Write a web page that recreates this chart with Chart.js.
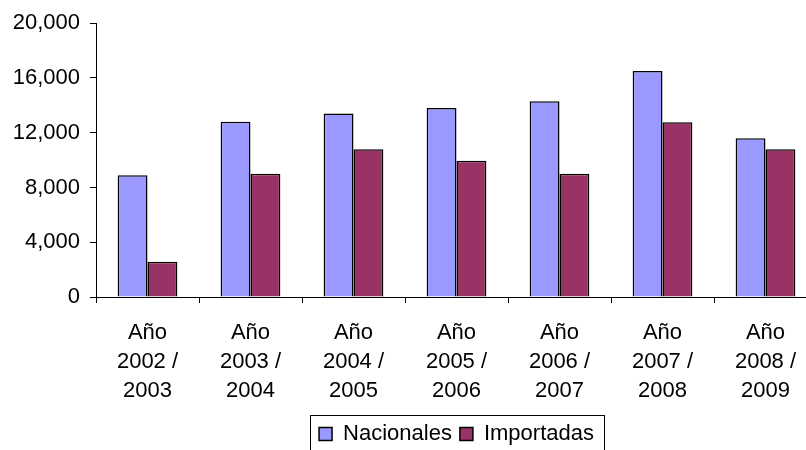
<!DOCTYPE html>
<html>
<head>
<meta charset="utf-8">
<script src="https://cdn.jsdelivr.net/npm/chart.js@4"></script>
<style>
  html, body { margin: 0; padding: 0; background: #fff; overflow: hidden; }
  #wrap { width: 820px; height: 450px; }
</style>
</head>
<body>
<div id="wrap"><canvas id="c" width="820" height="450"></canvas></div>
<script>
const categories = [
  ['Año', '2002 /', '2003'],
  ['Año', '2003 /', '2004'],
  ['Año', '2004 /', '2005'],
  ['Año', '2005 /', '2006'],
  ['Año', '2006 /', '2007'],
  ['Año', '2007 /', '2008'],
  ['Año', '2008 /', '2009']
];
const nacionales = [8900, 12800, 13400, 13800, 14300, 16500, 11600];
const importadas = [2570, 9000, 10800, 9950, 9000, 12770, 10800];
const yTicks = [0, 4000, 8000, 12000, 16000, 20000];

const FONT = 'Arial, "Liberation Sans", sans-serif';

// frame drawn around the legend, like the original
const legendFrame = {
  id: 'legendFrame',
  afterDraw(chart) {
    const boxes = chart.legend.legendHitBoxes;
    if (!boxes || !boxes.length) return;
    const first = boxes[0];
    const last = boxes[boxes.length - 1];
    const ctx = chart.ctx;
    ctx.save();
    ctx.strokeStyle = '#000';
    ctx.lineWidth = 1;
    const x0 = Math.round(first.left - 9) + 0.5;
    const x1 = Math.round(last.left + last.width + 10) + 0.5;
    const y0 = Math.round(first.top - 8) + 0.5;
    ctx.strokeRect(x0, y0, x1 - x0, 60);
    ctx.restore();
  }
};

new Chart(document.getElementById('c'), {
  type: 'bar',
  data: {
    labels: categories,
    datasets: [
      {
        label: 'Nacionales',
        data: nacionales,
        backgroundColor: '#9999FF',
        borderColor: '#000',
        borderWidth: 1.5
      },
      {
        label: 'Importadas',
        data: importadas,
        backgroundColor: '#993366',
        borderColor: '#000',
        borderWidth: 1.5
      }
    ]
  },
  options: {
    responsive: false,
    animation: false,
    layout: { padding: { top: 14, right: 3, left: 0, bottom: -5 } },
    datasets: {
      bar: { categoryPercentage: 0.58, barPercentage: 1 }
    },
    scales: {
      x: {
        grid: {
          display: true,
          drawOnChartArea: false,
          drawTicks: true,
          tickLength: 6,
          color: '#000'
        },
        border: { display: true, color: '#000', width: 1 },
        ticks: {
          color: '#000',
          font: { family: FONT, size: 22, lineHeight: 1.32 },
          maxRotation: 0,
          autoSkip: false,
          padding: 15
        },
        afterFit(scale) { scale.height = 118; }
      },
      y: {
        min: 0,
        max: 20000,
        afterBuildTicks(scale) {
          scale.ticks = yTicks.map(v => ({ value: v }));
        },
        grid: {
          display: true,
          drawOnChartArea: false,
          drawTicks: true,
          tickLength: 6,
          color: '#000'
        },
        border: { display: true, color: '#000', width: 1 },
        ticks: {
          color: '#000',
          font: { family: FONT, size: 22 },
          padding: 10,
          callback: v => v.toLocaleString('en-US')
        },
        afterFit(scale) { scale.width = 96; }
      }
    },
    plugins: {
      legend: {
        position: 'bottom',
        fullSize: false,
        labels: {
          color: '#000',
          font: { family: FONT, size: 22 },
          boxWidth: 13,
          boxHeight: 13,
          padding: 8,
          useBorderRadius: false
        }
      },
      tooltip: { enabled: false }
    }
  },
  plugins: [legendFrame]
});
</script>
</body>
</html>
